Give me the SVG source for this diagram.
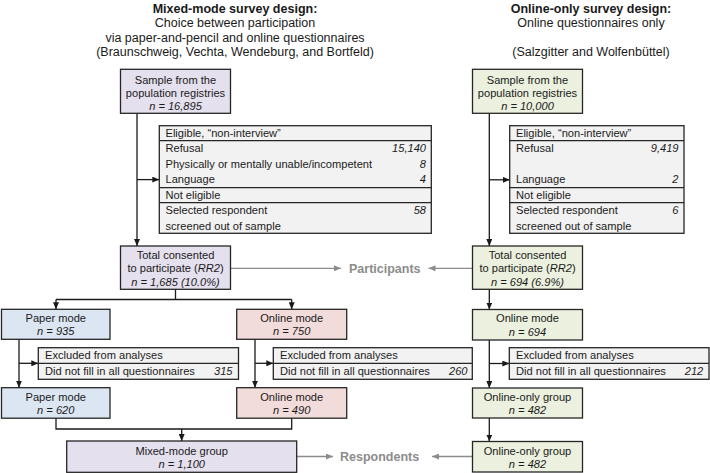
<svg xmlns="http://www.w3.org/2000/svg" width="710" height="473" viewBox="0 0 710 473">
<defs>
<style>
text{font-family:"Liberation Sans",Arial,Helvetica,sans-serif;fill:#1a1a1a}
.hd{font-size:12.5px;text-anchor:middle}
.hb{font-weight:bold}
.t{font-size:11.1px}
.c{text-anchor:middle}
.r{text-anchor:end;font-style:italic}
.i{font-style:italic}
.box{stroke:#262626;stroke-width:1.3}
.lav{fill:#e5e0ee}
.blu{fill:#dce6f2}
.pnk{fill:#f2dcdb}
.grn{fill:#ebf1de}
.exc{fill:#f2f2f2;stroke:#262626;stroke-width:1.3}
.div{stroke:#262626;stroke-width:1.3}
.ln{fill:none;stroke:#1a1a1a;stroke-width:1.3}
.ga{fill:none;stroke:#8c8c8c;stroke-width:1.3}
.gl{font-size:12.5px;font-weight:bold;fill:#8c8c8c}
</style>
<marker id="ah" viewBox="0 0 7 6" refX="7" refY="3" markerWidth="7" markerHeight="6" markerUnits="userSpaceOnUse" orient="auto"><path d="M0,0 L7,3 L0,6 z" fill="#1a1a1a"/></marker>
<marker id="gh" viewBox="0 0 7 6" refX="7" refY="3" markerWidth="7" markerHeight="6" markerUnits="userSpaceOnUse" orient="auto"><path d="M0,0 L7,3 L0,6 z" fill="#8c8c8c"/></marker>
</defs>
<rect width="710" height="473" fill="#ffffff"/>

<g id="header-left">
<text class="hd hb" x="235" y="12.5">Mixed-mode survey design:</text>
<text class="hd" x="235" y="27">Choice between participation</text>
<text class="hd" x="235" y="41.5">via paper-and-pencil and online questionnaires</text>
<text class="hd" x="235" y="56">(Braunschweig, Vechta, Wendeburg, and Bortfeld)</text>
</g>
<g id="header-right">
<text class="hd hb" x="591" y="12.5">Online-only survey design:</text>
<text class="hd" x="591" y="27">Online questionnaires only</text>
<text class="hd" x="591" y="56">(Salzgitter and Wolfenbüttel)</text>
</g>

<g id="connectors">
<path class="ln" d="M137,113.3 V246" marker-end="url(#ah)"/>
<path class="ln" d="M137,179.6 H159.3" marker-end="url(#ah)"/>
<path class="ln" d="M489.3,113.3 V246" marker-end="url(#ah)"/>
<path class="ln" d="M489.3,179.8 H509.7" marker-end="url(#ah)"/>
<path class="ln" d="M175.5,289.3 V299.5 M56,299.5 H291.7"/>
<path class="ln" d="M56,299.5 V309.3" marker-end="url(#ah)"/>
<path class="ln" d="M291.7,299.5 V309.3" marker-end="url(#ah)"/>
<path class="ln" d="M19,339.3 V387.7" marker-end="url(#ah)"/>
<path class="ln" d="M19,363.3 H38.3" marker-end="url(#ah)"/>
<path class="ln" d="M255,339.3 V387.7" marker-end="url(#ah)"/>
<path class="ln" d="M255,363.3 H273.3" marker-end="url(#ah)"/>
<path class="ln" d="M56,418.2 V429 H291.7 V418.2"/>
<path class="ln" d="M181.7,429 V441" marker-end="url(#ah)"/>
<path class="ln" d="M489.3,289.3 V309.5" marker-end="url(#ah)"/>
<path class="ln" d="M489.3,340 V388" marker-end="url(#ah)"/>
<path class="ln" d="M489.3,363.5 H509.3" marker-end="url(#ah)"/>
<path class="ln" d="M489.3,418 V441.5" marker-end="url(#ah)"/>
<path class="ga" d="M230.5,268.3 H341" marker-end="url(#gh)"/>
<path class="ga" d="M472.5,268.3 H428.5" marker-end="url(#gh)"/>
<path class="ga" d="M296.7,456.5 H333" marker-end="url(#gh)"/>
<path class="ga" d="M472.5,456.5 H432" marker-end="url(#gh)"/>
</g>

<g id="label-participants"><text class="gl" x="349" y="272.5">Participants</text></g>
<g id="label-respondents"><text class="gl" x="340" y="461">Respondents</text></g>

<g id="sample-left">
<rect class="box lav" x="120.5" y="69.3" width="110" height="44"/>
<text class="t c" x="175.5" y="83.8">Sample from the</text>
<text class="t c" x="175.5" y="96.8">population registries</text>
<text class="t c i" x="175.5" y="109.6">n = 16,895</text>
</g>
<g id="sample-right">
<rect class="box grn" x="472.5" y="69.3" width="110" height="44"/>
<text class="t c" x="527.5" y="83.8">Sample from the</text>
<text class="t c" x="527.5" y="96.8">population registries</text>
<text class="t c i" x="527.5" y="109.6">n = 10,000</text>
</g>

<g id="nonresponse-left">
<rect class="exc" x="159.3" y="125.7" width="272" height="107.6"/>
<path class="div" d="M159.3,140.7 H431.3 M159.3,187.7 H431.3 M159.3,202.7 H431.3"/>
<text class="t" x="165.5" y="137.3">Eligible, “non-interview”</text>
<text class="t" x="165.5" y="152">Refusal</text>
<text class="t" x="165.5" y="167.7">Physically or mentally unable/incompetent</text>
<text class="t" x="165.5" y="183.3">Language</text>
<text class="t" x="165.5" y="198.7">Not eligible</text>
<text class="t" x="165.5" y="214">Selected respondent</text>
<text class="t" x="165.5" y="229.5">screened out of sample</text>
<text class="t r" x="426" y="152">15,140</text>
<text class="t r" x="426" y="167.7">8</text>
<text class="t r" x="426" y="183.3">4</text>
<text class="t r" x="426" y="214">58</text>
</g>
<g id="nonresponse-right">
<rect class="exc" x="509.7" y="125.7" width="174.3" height="107.6"/>
<path class="div" d="M509.7,140.7 H684 M509.7,187.7 H684 M509.7,202.7 H684"/>
<text class="t" x="516" y="137.3">Eligible, “non-interview”</text>
<text class="t" x="516" y="152">Refusal</text>
<text class="t" x="516" y="183.3">Language</text>
<text class="t" x="516" y="198.7">Not eligible</text>
<text class="t" x="516" y="214">Selected respondent</text>
<text class="t" x="516" y="229.5">screened out of sample</text>
<text class="t r" x="678.5" y="152">9,419</text>
<text class="t r" x="678.5" y="183.3">2</text>
<text class="t r" x="678.5" y="214">6</text>
</g>

<g id="total-left">
<rect class="box lav" x="120.5" y="246" width="110" height="43.3"/>
<text class="t c" x="175.5" y="259">Total consented</text>
<text class="t c" x="175.5" y="272.3">to participate (<tspan class="i">RR2</tspan>)</text>
<text class="t c i" x="175.5" y="285.7">n = 1,685 (10.0%)</text>
</g>
<g id="total-right">
<rect class="box grn" x="472.5" y="246" width="110" height="43.3"/>
<text class="t c" x="527.5" y="259">Total consented</text>
<text class="t c" x="527.5" y="272.3">to participate (<tspan class="i">RR2</tspan>)</text>
<text class="t c i" x="527.5" y="285.7">n = 694 (6.9%)</text>
</g>

<g id="paper-mode">
<rect class="box blu" x="1.5" y="309.3" width="108.5" height="30"/>
<text class="t c" x="55.75" y="322">Paper mode</text>
<text class="t c i" x="55.75" y="335.3">n = 935</text>
</g>
<g id="online-mode-left">
<rect class="box pnk" x="236.7" y="309.3" width="110" height="30"/>
<text class="t c" x="291.7" y="322">Online mode</text>
<text class="t c i" x="291.7" y="335.3">n = 750</text>
</g>
<g id="online-mode-right">
<rect class="box grn" x="472.5" y="309.5" width="110" height="30.5"/>
<text class="t c" x="527.5" y="322">Online mode</text>
<text class="t c i" x="527.5" y="335.5">n = 694</text>
</g>

<g id="excluded-paper">
<rect class="exc" x="38.3" y="347.7" width="200.2" height="31.6"/>
<path class="div" d="M38.3,363.3 H238.5"/>
<text class="t" x="45" y="359">Excluded from analyses</text>
<text class="t" x="45" y="374.5">Did not fill in all questionnaires</text>
<text class="t r" x="232.5" y="374.5">315</text>
</g>
<g id="excluded-online-left">
<rect class="exc" x="273.3" y="347.7" width="199" height="31.6"/>
<path class="div" d="M273.3,363.3 H472.3"/>
<text class="t" x="280" y="359">Excluded from analyses</text>
<text class="t" x="280" y="374.5">Did not fill in all questionnaires</text>
<text class="t r" x="467.5" y="374.5">260</text>
</g>
<g id="excluded-online-right">
<rect class="exc" x="509.3" y="347.7" width="199.7" height="31.6"/>
<path class="div" d="M509.3,363.3 H709"/>
<text class="t" x="516" y="359">Excluded from analyses</text>
<text class="t" x="516" y="374.5">Did not fill in all questionnaires</text>
<text class="t r" x="703.3" y="374.5">212</text>
</g>

<g id="paper-mode-final">
<rect class="box blu" x="1.5" y="387.7" width="108.5" height="30.5"/>
<text class="t c" x="55.75" y="400.8">Paper mode</text>
<text class="t c i" x="55.75" y="414">n = 620</text>
</g>
<g id="online-mode-final">
<rect class="box pnk" x="236.7" y="387.7" width="110" height="30.5"/>
<text class="t c" x="291.7" y="400.8">Online mode</text>
<text class="t c i" x="291.7" y="414">n = 490</text>
</g>
<g id="online-only-group">
<rect class="box grn" x="472.5" y="388" width="110" height="30"/>
<text class="t c" x="527.5" y="400.8">Online-only group</text>
<text class="t c i" x="527.5" y="414">n = 482</text>
</g>

<g id="mixed-mode-group">
<rect class="box lav" x="66.7" y="441" width="230" height="31.3"/>
<text class="t c" x="181.7" y="454.5">Mixed-mode group</text>
<text class="t c i" x="181.7" y="467.8">n = 1,100</text>
</g>
<g id="online-only-group-final">
<rect class="box grn" x="472.5" y="441.5" width="110" height="30.5"/>
<text class="t c" x="527.5" y="454.5">Online-only group</text>
<text class="t c i" x="527.5" y="467.8">n = 482</text>
</g>
</svg>
